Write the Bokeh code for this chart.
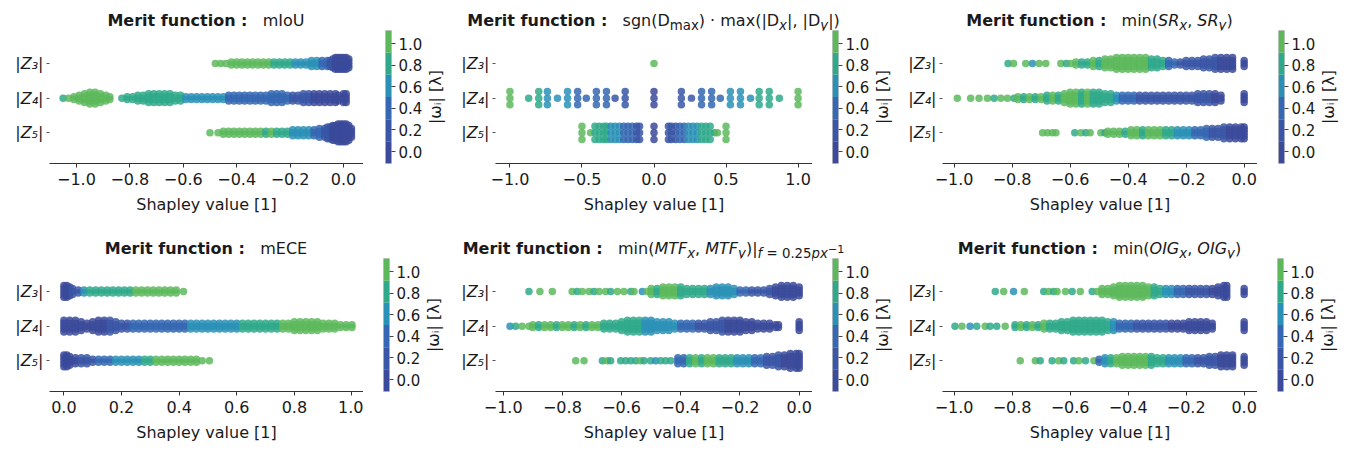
import numpy as np
from bokeh.plotting import figure
from bokeh.models import (Range1d, FixedTicker, CustomJSTickFormatter, ColumnDataSource,
                          LinearColorMapper, Div, Label)
from bokeh.layouts import row, column
from bokeh.transform import transform
from bokeh.embed import file_html
from bokeh.resources import INLINE

# ---------------- data ----------------
PALETTE = ["#3b4a9a", "#3a56a6", "#3567b3", "#2a90b6", "#2fa98a", "#5db85c"]
OMEGA_LOW, OMEGA_HIGH = -0.111, 1.123
CB_TICKS = [0.0, 0.2, 0.4, 0.6, 0.8, 1.0]
ROW_LABELS = ["|Z₅|", "|Z₄|", "|Z₃|"]          # rows y = 0, 1, 2
XTICKS_NEG = [-1.0, -0.8, -0.6, -0.4, -0.2, 0.0]
XTICKS_SYM = [-1.0, -0.5, 0.0, 0.5, 1.0]
XTICKS_POS = [0.0, 0.2, 0.4, 0.6, 0.8, 1.0]
X_LABEL = "Shapley value [1]"
CB_LABEL = "|ωᵢ| [λ]"

# samples: (shapley value, |omega|, number of stacked points)
MIOU_Z3 = [(-0.48,1.0,1),(-0.46,1.0,1),(-0.44,1.0,1),(-0.42,1.0,2),(-0.40,1.0,2),(-0.38,1.0,2),(-0.36,1.0,2),
           (-0.34,1.0,2),(-0.32,1.0,2),(-0.30,1.0,2),(-0.28,0.95,2),(-0.26,0.8,2),(-0.24,0.8,2),(-0.22,0.8,2),
           (-0.20,0.75,2),(-0.18,0.65,2),(-0.16,0.65,2),(-0.14,0.6,2),(-0.12,0.6,3),(-0.10,0.55,3),(-0.08,0.45,3),
           (-0.06,0.4,3),(-0.05,0.25,3),(-0.04,0.1,4),(-0.03,0.05,5),(-0.02,0.0,5),(-0.01,0.0,5),(0.00,0.0,5),
           (0.01,0.0,5),(0.02,0.0,4)]
MIOU_Z4 = [(-1.05,0.9,1),(-1.03,1.0,1),(-1.01,1.0,2),(-0.99,1.0,3),(-0.97,1.0,4),(-0.95,1.0,5),(-0.93,1.0,5),
           (-0.91,1.0,4),(-0.89,1.0,3),(-0.875,1.0,2),(-0.83,0.85,1),(-0.81,0.8,2),(-0.79,0.8,2),(-0.77,0.8,3),
           (-0.75,0.8,3),(-0.73,0.8,4),(-0.71,0.8,4),(-0.69,0.8,4),(-0.67,0.8,4),(-0.65,0.8,4),(-0.63,0.8,3),
           (-0.61,0.75,3),(-0.59,0.6,2),(-0.57,0.6,2),(-0.55,0.6,2),(-0.53,0.6,2),(-0.51,0.6,2),(-0.49,0.55,2),
           (-0.47,0.55,2),(-0.45,0.55,2),(-0.43,0.5,3),(-0.41,0.45,3),(-0.39,0.45,3),(-0.37,0.4,3),(-0.35,0.4,3),
           (-0.33,0.4,3),(-0.31,0.35,3),(-0.29,0.35,3),(-0.27,0.35,4),(-0.25,0.35,4),(-0.23,0.35,4),(-0.21,0.35,3),
           (-0.19,0.3,3),(-0.17,0.15,3),(-0.15,0.1,4),(-0.13,0.1,4),(-0.11,0.05,4),(-0.09,0.05,4),(-0.07,0.05,4),
           (-0.05,0.0,4),(-0.03,0.0,4),(-0.02,0.0,3),(0.00,0.0,4),(0.01,0.0,4)]
MIOU_Z5 = [(-0.50,1.0,1),(-0.47,1.0,1),(-0.45,1.0,2),(-0.43,1.0,2),(-0.41,1.0,2),(-0.39,1.0,2),(-0.37,1.0,2),
           (-0.35,1.0,2),(-0.33,1.0,2),(-0.31,0.95,2),(-0.29,0.9,2),(-0.27,0.95,2),(-0.25,0.8,2),(-0.23,0.8,2),
           (-0.21,0.75,2),(-0.19,0.65,3),(-0.17,0.65,3),(-0.15,0.6,3),(-0.13,0.55,3),(-0.11,0.45,3),(-0.09,0.4,4),
           (-0.07,0.3,4),(-0.06,0.15,5),(-0.05,0.1,5),(-0.04,0.05,6),(-0.03,0.0,6),(-0.02,0.0,7),(-0.01,0.0,7),
           (0.00,0.0,7),(0.01,0.0,7),(0.02,0.0,6),(0.03,0.0,4)]

DMAX_Z3 = [(0.0,1.0,1)]
DMAX_Z4 = [(-1.0,1.0,3),(-0.87,0.85,1),(-0.80,0.8,3),(-0.74,0.7,3),(-0.67,0.65,1),(-0.60,0.6,3),(-0.53,0.5,3),
           (-0.47,0.45,1),(-0.40,0.4,3),(-0.33,0.35,3),(-0.27,0.25,1),(-0.20,0.2,3),(0.0,0.0,3),(0.19,0.2,3),
           (0.26,0.25,1),(0.33,0.35,3),(0.40,0.4,3),(0.46,0.45,1),(0.53,0.55,3),(0.60,0.6,3),(0.67,0.65,1),
           (0.73,0.75,3),(0.80,0.8,3),(0.87,0.9,1),(1.0,1.0,3)]
DMAX_Z5 = [(-0.50,1.0,3),(-0.44,0.95,1),(-0.41,0.9,3),(-0.38,0.85,3),(-0.35,0.8,3),(-0.33,0.75,3),(-0.30,0.7,3),
           (-0.27,0.6,3),(-0.24,0.55,3),(-0.21,0.45,3),(-0.18,0.4,3),(-0.15,0.35,3),(-0.12,0.25,3),(-0.10,0.2,3),
           (0.0,0.0,3),(0.10,0.2,3),(0.12,0.25,3),(0.15,0.3,3),(0.18,0.4,3),(0.21,0.45,3),(0.24,0.55,3),
           (0.27,0.6,3),(0.30,0.7,3),(0.33,0.75,3),(0.36,0.8,3),(0.39,0.85,3),(0.42,0.9,1),(0.44,0.95,1),
           (0.50,1.0,3)]

SR_Z3 = [(-0.814,0.9,1),(-0.795,1.0,1),(-0.753,1.0,1),(-0.730,0.7,1),(-0.707,1.0,1),(-0.684,1.0,1),
         (-0.632,1.0,1),(-0.613,0.8,1),(-0.598,1.0,1),(-0.58,1.0,2),(-0.56,0.8,2),(-0.54,0.85,2),(-0.52,0.95,3),
         (-0.50,0.8,3),(-0.48,0.95,4),(-0.46,1.0,4),(-0.44,1.0,5),(-0.42,1.0,5),(-0.40,1.0,5),(-0.38,1.0,5),
         (-0.36,1.0,5),(-0.34,0.95,5),(-0.32,0.85,4),(-0.30,0.8,4),(-0.28,0.75,3),(-0.26,0.4,3),(-0.24,0.35,2),
         (-0.22,0.3,2),(-0.20,0.3,3),(-0.18,0.3,3),(-0.16,0.3,3),(-0.14,0.2,4),(-0.12,0.2,4),(-0.10,0.1,5),
         (-0.08,0.05,5),(-0.06,0.0,5),(-0.04,0.0,5),(0.0,0.0,3)]
SR_Z4 = [(-0.989,1.0,1),(-0.943,1.0,1),(-0.914,0.95,1),(-0.885,1.0,1),(-0.862,0.8,1),(-0.839,1.0,1),
         (-0.816,1.0,1),(-0.793,0.85,1),(-0.78,1.0,2),(-0.76,0.8,2),(-0.74,1.0,2),(-0.72,0.85,2),(-0.70,1.0,2),
         (-0.68,0.8,3),(-0.66,1.0,3),(-0.64,0.9,3),(-0.62,1.0,4),(-0.60,0.95,5),(-0.58,1.0,5),(-0.56,0.85,5),
         (-0.54,1.0,5),(-0.52,0.9,5),(-0.50,0.85,5),(-0.48,0.8,4),(-0.46,0.75,4),(-0.44,0.6,3),(-0.42,0.5,3),
         (-0.40,0.4,3),(-0.38,0.35,3),(-0.36,0.3,3),(-0.34,0.3,3),(-0.32,0.25,3),(-0.30,0.25,3),(-0.28,0.25,3),
         (-0.26,0.2,3),(-0.24,0.2,3),(-0.22,0.2,3),(-0.20,0.2,3),(-0.18,0.15,3),(-0.16,0.15,4),(-0.14,0.1,4),
         (-0.12,0.1,4),(-0.10,0.05,4),(-0.08,0.0,3),(0.0,0.0,4)]
SR_Z5 = [(-0.695,1.0,1),(-0.678,0.95,1),(-0.661,1.0,1),(-0.649,1.0,1),(-0.584,0.9,1),(-0.563,1.0,1),
         (-0.546,0.85,1),(-0.531,1.0,1),(-0.494,1.0,1),(-0.480,0.85,1),(-0.47,1.0,2),(-0.45,0.95,2),
         (-0.43,1.0,2),(-0.41,0.85,2),(-0.39,0.95,3),(-0.37,1.0,3),(-0.35,0.9,3),(-0.33,1.0,3),(-0.31,0.95,3),
         (-0.29,1.0,3),(-0.27,0.8,3),(-0.25,0.75,3),(-0.23,0.7,3),(-0.21,0.6,3),(-0.19,0.55,3),(-0.17,0.45,3),
         (-0.15,0.4,3),(-0.13,0.35,4),(-0.11,0.3,4),(-0.09,0.2,4),(-0.07,0.1,5),(-0.05,0.05,5),(-0.03,0.0,5),
         (-0.01,0.0,5),(0.0,0.0,5)]

ECE_Z3 = [(0.00,0.0,5),(0.01,0.0,5),(0.02,0.05,4),(0.03,0.1,3),(0.05,0.3,2),(0.07,0.7,2),(0.09,0.8,2),
          (0.11,0.8,2),(0.13,0.8,2),(0.15,0.8,2),(0.17,0.8,2),(0.19,0.85,2),(0.21,0.85,2),(0.23,0.9,2),
          (0.25,1.0,2),(0.27,1.0,2),(0.29,1.0,2),(0.31,1.0,2),(0.33,1.0,2),(0.35,1.0,2),(0.37,1.0,2),
          (0.39,1.0,2),(0.415,1.0,1)]
ECE_Z4 = [(0.00,0.0,5),(0.02,0.0,5),(0.04,0.0,5),(0.06,0.05,4),(0.08,0.05,3),(0.10,0.05,4),(0.12,0.05,5),
          (0.14,0.05,5),(0.16,0.1,5),(0.18,0.15,4),(0.20,0.2,3),(0.22,0.25,3),(0.24,0.35,3),(0.26,0.35,3),
          (0.28,0.35,3),(0.30,0.4,3),(0.32,0.4,3),(0.34,0.4,3),(0.36,0.45,3),(0.38,0.45,3),(0.40,0.45,3),
          (0.42,0.5,3),(0.44,0.55,3),(0.46,0.55,3),(0.48,0.6,3),(0.50,0.6,3),(0.52,0.6,3),(0.54,0.65,3),
          (0.56,0.65,3),(0.58,0.65,3),(0.60,0.7,3),(0.62,0.75,3),(0.64,0.75,3),(0.66,0.8,3),(0.68,0.8,3),
          (0.70,0.85,3),(0.72,0.85,3),(0.74,0.9,3),(0.76,0.95,3),(0.78,1.0,3),(0.80,1.0,4),(0.82,1.0,4),
          (0.84,1.0,4),(0.86,1.0,4),(0.88,1.0,4),(0.90,1.0,3),(0.92,1.0,3),(0.94,1.0,3),(0.96,1.0,2),
          (0.98,1.0,2),(1.00,1.0,2)]
ECE_Z5 = [(0.00,0.0,5),(0.01,0.0,5),(0.02,0.0,4),(0.04,0.05,3),(0.06,0.1,3),(0.08,0.2,3),(0.10,0.3,2),
          (0.12,0.4,2),(0.14,0.45,2),(0.16,0.5,2),(0.18,0.55,2),(0.20,0.6,2),(0.22,0.6,2),(0.24,0.65,2),
          (0.26,0.7,2),(0.28,0.75,2),(0.30,0.9,2),(0.32,1.0,2),(0.34,1.0,2),(0.36,1.0,2),(0.38,1.0,2),
          (0.40,1.0,2),(0.42,1.0,2),(0.44,1.0,2),(0.46,1.0,2),(0.48,1.0,1),(0.505,1.0,1)]

MTF_Z3 = [(-0.913,0.85,1),(-0.876,1.0,1),(-0.834,1.0,1),(-0.767,1.0,1),(-0.750,0.85,1),(-0.733,1.0,1),
          (-0.710,1.0,1),(-0.693,0.85,1),(-0.676,1.0,1),(-0.654,1.0,1),(-0.637,0.8,1),(-0.614,1.0,1),
          (-0.592,1.0,1),(-0.569,0.85,1),(-0.558,1.0,1),(-0.530,0.65,1),(-0.513,1.0,1),(-0.50,1.0,3),
          (-0.48,0.9,3),(-0.46,1.0,4),(-0.44,0.95,4),(-0.42,1.0,4),(-0.40,0.9,4),(-0.38,0.9,3),(-0.36,0.85,3),
          (-0.34,0.8,3),(-0.32,0.75,3),(-0.30,0.7,3),(-0.28,0.6,4),(-0.26,0.6,4),(-0.24,0.55,4),(-0.22,0.55,3),
          (-0.20,0.5,2),(-0.18,0.35,2),(-0.16,0.3,2),(-0.14,0.2,2),(-0.12,0.15,2),(-0.10,0.1,3),(-0.08,0.05,4),
          (-0.06,0.0,5),(-0.04,0.0,5),(-0.02,0.0,5),(0.0,0.0,4)]
MTF_Z4 = [(-0.977,0.7,1),(-0.958,0.9,1),(-0.936,1.0,1),(-0.913,1.0,1),(-0.90,1.0,2),(-0.88,0.85,2),
          (-0.86,1.0,2),(-0.84,1.0,2),(-0.82,0.85,2),(-0.80,1.0,2),(-0.78,1.0,2),(-0.76,0.9,2),(-0.74,1.0,2),
          (-0.72,0.85,2),(-0.70,1.0,2),(-0.68,0.95,2),(-0.66,0.85,3),(-0.64,0.85,3),(-0.62,0.8,3),(-0.60,0.8,4),
          (-0.58,0.8,5),(-0.56,0.75,5),(-0.54,0.75,5),(-0.52,0.7,5),(-0.50,0.7,5),(-0.48,0.65,4),(-0.46,0.6,4),
          (-0.44,0.6,4),(-0.42,0.55,3),(-0.40,0.5,3),(-0.38,0.4,3),(-0.36,0.35,3),(-0.34,0.3,3),(-0.32,0.2,3),
          (-0.30,0.15,4),(-0.28,0.1,4),(-0.26,0.1,5),(-0.24,0.05,5),(-0.22,0.05,5),(-0.20,0.05,5),
          (-0.18,0.05,4),(-0.16,0.05,4),(-0.14,0.05,3),(-0.12,0.05,3),(-0.10,0.05,3),(-0.08,0.05,2),
          (-0.07,0.05,2),(0.0,0.0,4)]
MTF_Z5 = [(-0.755,1.0,1),(-0.727,1.0,1),(-0.665,0.9,1),(-0.648,1.0,1),(-0.637,0.85,1),(-0.603,0.85,1),
          (-0.586,0.8,1),(-0.569,0.85,1),(-0.552,0.85,1),(-0.536,1.0,1),(-0.524,0.85,1),(-0.502,0.8,1),
          (-0.485,0.65,1),(-0.468,0.9,1),(-0.451,0.8,1),(-0.434,0.75,1),(-0.41,0.45,3),(-0.39,0.4,3),
          (-0.37,0.85,3),(-0.35,0.95,3),(-0.33,0.9,3),(-0.31,1.0,3),(-0.29,0.95,3),(-0.27,0.85,3),(-0.25,0.8,3),
          (-0.23,0.75,3),(-0.21,0.7,3),(-0.19,0.65,3),(-0.17,0.6,3),(-0.15,0.5,3),(-0.13,0.35,3),(-0.11,0.3,4),
          (-0.09,0.2,4),(-0.07,0.1,5),(-0.05,0.05,5),(-0.03,0.0,6),(-0.01,0.0,6),(0.0,0.0,6)]

OIG_Z3 = [(-0.858,0.85,1),(-0.829,1.0,1),(-0.795,0.7,1),(-0.758,1.0,1),(-0.691,0.85,1),(-0.674,1.0,1),
          (-0.657,0.85,1),(-0.645,1.0,1),(-0.616,1.0,1),(-0.593,0.85,1),(-0.565,1.0,1),(-0.524,0.8,1),
          (-0.507,1.0,1),(-0.49,1.0,3),(-0.47,0.95,3),(-0.45,1.0,4),(-0.43,1.0,5),(-0.41,0.95,5),(-0.39,1.0,5),
          (-0.37,0.95,5),(-0.35,1.0,5),(-0.33,0.95,4),(-0.31,0.85,4),(-0.29,0.8,3),(-0.27,0.7,3),(-0.25,0.6,3),
          (-0.23,0.45,3),(-0.21,0.35,3),(-0.19,0.3,3),(-0.17,0.2,3),(-0.15,0.15,3),(-0.13,0.1,3),(-0.11,0.05,3),
          (-0.09,0.0,4),(-0.07,0.0,5),(-0.06,0.0,5),(0.0,0.0,3)]
OIG_Z4 = [(-0.997,0.9,1),(-0.973,1.0,1),(-0.945,0.7,1),(-0.922,0.85,1),(-0.893,1.0,1),(-0.876,0.85,1),
          (-0.853,0.85,1),(-0.824,1.0,1),(-0.79,0.85,2),(-0.77,1.0,2),(-0.75,0.85,2),(-0.73,1.0,2),
          (-0.71,0.85,2),(-0.69,1.0,3),(-0.67,0.8,3),(-0.65,0.85,3),(-0.63,0.8,4),(-0.61,0.8,4),(-0.59,0.75,5),
          (-0.57,0.8,5),(-0.55,0.85,5),(-0.53,0.8,5),(-0.51,0.85,5),(-0.49,0.8,5),(-0.47,0.75,4),(-0.45,0.6,4),
          (-0.43,0.45,3),(-0.41,0.4,3),(-0.39,0.35,3),(-0.37,0.3,3),(-0.35,0.25,3),(-0.33,0.2,3),(-0.31,0.15,3),
          (-0.29,0.1,3),(-0.27,0.1,3),(-0.25,0.05,3),(-0.23,0.05,3),(-0.21,0.05,3),(-0.19,0.05,4),
          (-0.17,0.05,4),(-0.15,0.05,4),(-0.13,0.05,4),(-0.11,0.05,3),(0.0,0.0,4)]
OIG_Z5 = [(-0.772,1.0,1),(-0.720,1.0,1),(-0.703,0.9,1),(-0.662,0.85,1),(-0.639,1.0,1),(-0.622,0.85,1),
          (-0.588,0.85,1),(-0.570,1.0,1),(-0.547,0.85,1),(-0.518,1.0,1),(-0.50,0.4,2),(-0.48,0.6,3),
          (-0.46,0.9,3),(-0.44,1.0,3),(-0.42,0.95,4),(-0.40,1.0,4),(-0.38,0.95,4),(-0.36,1.0,4),(-0.34,0.95,4),
          (-0.32,0.9,4),(-0.30,0.85,3),(-0.28,0.75,3),(-0.26,0.7,3),(-0.24,0.6,3),(-0.22,0.55,3),(-0.20,0.5,3),
          (-0.18,0.35,3),(-0.16,0.3,3),(-0.14,0.2,3),(-0.12,0.15,4),(-0.10,0.1,4),(-0.08,0.05,5),(-0.06,0.0,5),
          (-0.04,0.0,5),(0.0,0.0,4)]

TITLES = [
    "mIoU",
    "sgn(D<sub>max</sub>) · max(|D<sub><i>x</i></sub>|, |D<sub><i>y</i></sub>|)",
    "min(<i>SR<sub>x</sub></i>, <i>SR<sub>y</sub></i>)",
    "mECE",
    "min(<i>MTF<sub>x</sub></i>, <i>MTF<sub>y</sub></i>)|<sub><i>f</i> = 0.25<i>px</i><sup>−1</sup></sub>",
    "min(<i>OIG<sub>x</sub></i>, <i>OIG<sub>y</sub></i>)",
]

# ---------------- layout / style ----------------
FONT = "DejaVu Sans"
TXT = "#1a1a1a"
mapper = LinearColorMapper(palette=PALETTE, low=OMEGA_LOW, high=OMEGA_HIGH)

PANELS = [
    dict(title=TITLES[0], rows=[MIOU_Z5, MIOU_Z4, MIOU_Z3], xr=(-1.101, 0.075), ticks=XTICKS_NEG, frame=(49, 363), cb=385, dy=0.085),
    dict(title=TITLES[1], rows=[DMAX_Z5, DMAX_Z4, DMAX_Z3], xr=(-1.10, 1.10), ticks=XTICKS_SYM, frame=(45, 362), cb=382, dy=0.19),
    dict(title=TITLES[2], rows=[SR_Z5, SR_Z4, SR_Z3], xr=(-1.04, 0.046), ticks=XTICKS_NEG, frame=(42, 357), cb=378, dy=0.085),
    dict(title=TITLES[3], rows=[ECE_Z5, ECE_Z4, ECE_Z3], xr=(-0.05, 1.04), ticks=XTICKS_POS, frame=(49, 363), cb=383, dy=0.085),
    dict(title=TITLES[4], rows=[MTF_Z5, MTF_Z4, MTF_Z3], xr=(-1.026, 0.045), ticks=XTICKS_NEG, frame=(45, 362), cb=382, dy=0.085),
    dict(title=TITLES[5], rows=[OIG_Z5, OIG_Z4, OIG_Z3], xr=(-1.04, 0.046), ticks=XTICKS_NEG, frame=(42, 357), cb=377, dy=0.085),
]
CB_W = 7          # colour bar width, px
CB_AXIS_W = 33    # room for colour-bar ticks + labels, px
CB_LABEL_X = 10   # label centre inside the label strip, px

minus_fmt = CustomJSTickFormatter(code="return tick.toFixed(1).replace('-', '\u2212');")


def swarm(rows, dy):
    xs, ys, ws = [], [], []
    for ry, samples in enumerate(rows):
        for x, w, n in samples:
            for k in range(n):
                xs.append(x)
                ys.append(ry + (k - (n - 1) / 2.0) * dy)
                ws.append(w)
    return dict(x=xs, y=ys, w=ws)


def bare_fig(**kw):
    f = figure(output_backend="svg", toolbar_location=None, title=None, **kw)
    f.xgrid.visible = False
    f.ygrid.visible = False
    return f


def make_panel(cfg, top_row, last_col):
    panel_w = 449 if last_col else 450
    title_h = 30 if top_row else 33
    fig_h = 225 - title_h
    frame_h = 133
    bb = fig_h - frame_h
    fl, fr = cfg["frame"]

    div_w = int(fl + fr)
    pad = 12 if top_row else 15
    div = Div(text=(f'<div style="width:{div_w}px;font-family:\'{FONT}\';font-size:16px;color:{TXT};'
                    f'text-align:center;white-space:nowrap;padding-top:{pad}px;line-height:18px">'
                    f'<b>Merit function :</b>&nbsp;&nbsp;&nbsp;{cfg["title"]}</div>'),
              width=div_w, height=title_h, margin=(0, 0, 0, 0))

    p = bare_fig(width=fr, height=fig_h, x_range=Range1d(*cfg["xr"]), y_range=Range1d(-0.885, 2.95),
                 min_border_left=fl, min_border_right=0, min_border_top=0, min_border_bottom=bb)
    p.outline_line_color = None

    src = ColumnDataSource(swarm(cfg["rows"], cfg["dy"]))
    p.scatter("x", "y", source=src, size=7.5, fill_color=transform("w", mapper),
              line_color=None, fill_alpha=0.85)

    xa = p.xaxis[0]
    xa.ticker = FixedTicker(ticks=cfg["ticks"])
    xa.formatter = minus_fmt
    xa.axis_label = X_LABEL
    xa.axis_label_text_font = FONT
    xa.axis_label_text_font_size = "16px"
    xa.axis_label_text_font_style = "normal"
    xa.axis_label_text_color = TXT
    xa.axis_label_standoff = 7
    xa.major_label_text_font = FONT
    xa.major_label_text_font_size = "16px"
    xa.major_label_text_color = TXT
    xa.axis_line_color = "#333333"
    xa.axis_line_width = 1.2
    xa.major_tick_line_color = "#333333"
    xa.major_tick_out = 4
    xa.major_tick_in = 0
    xa.minor_tick_line_color = None

    ya = p.yaxis[0]
    ya.ticker = FixedTicker(ticks=[0, 1, 2])
    ya.major_label_overrides = {i: lab for i, lab in enumerate(ROW_LABELS)}
    ya.major_label_text_font = FONT
    ya.major_label_text_font_size = "16px"
    ya.major_label_text_font_style = "italic"
    ya.major_label_text_color = TXT
    ya.major_label_standoff = 3
    ya.axis_line_color = None
    ya.major_tick_line_color = "#555555"
    ya.major_tick_out = 3
    ya.major_tick_in = 0
    ya.minor_tick_line_color = None

    # colour bar
    cb_right = cfg["cb"] + CB_W + CB_AXIS_W
    cb = bare_fig(width=cb_right - fr, height=fig_h, x_range=Range1d(0, 1),
                  y_range=Range1d(OMEGA_LOW, OMEGA_HIGH), y_axis_location="right", x_axis_location=None,
                  min_border_left=cfg["cb"] - fr, min_border_right=CB_AXIS_W,
                  min_border_top=0, min_border_bottom=bb)
    edges = np.linspace(OMEGA_LOW, OMEGA_HIGH, len(PALETTE) + 1)
    cb_src = ColumnDataSource(dict(bottom=edges[:-1], top=edges[1:], mid=(edges[:-1] + edges[1:]) / 2))
    cb.quad(left=0, right=1, bottom="bottom", top="top", source=cb_src,
            fill_color=transform("mid", mapper), line_color=None)
    cb.outline_line_color = "#c8c8c8"
    cya = cb.yaxis[0]
    cya.ticker = FixedTicker(ticks=CB_TICKS)
    cya.formatter = minus_fmt
    cya.major_label_text_font = FONT
    cya.major_label_text_font_size = "15px"
    cya.major_label_text_color = TXT
    cya.major_label_standoff = 3
    cya.axis_line_color = None
    cya.major_tick_line_color = "#444444"
    cya.major_tick_out = 4
    cya.major_tick_in = 0
    cya.minor_tick_line_color = None

    # colour-bar label strip
    lab_w = panel_w - cb_right
    lab = bare_fig(width=lab_w, height=fig_h, x_range=Range1d(0, lab_w),
                   y_range=Range1d(OMEGA_LOW, OMEGA_HIGH), x_axis_location=None, y_axis_location=None,
                   min_border_left=0, min_border_right=0, min_border_top=0, min_border_bottom=bb)
    lab.outline_line_color = None
    lab.add_layout(Label(x=CB_LABEL_X, y=(OMEGA_LOW + OMEGA_HIGH) / 2, text=CB_LABEL, angle=np.pi / 2,
                         text_align="center", text_baseline="middle",
                         text_font=FONT, text_font_size="16px", text_color=TXT))

    return column(div, row(p, cb, lab, spacing=0), spacing=0)


panels = [make_panel(cfg, i < 3, i % 3 == 2) for i, cfg in enumerate(PANELS)]
layout = column(row(*panels[:3], spacing=0), row(*panels[3:], spacing=0), spacing=0)

open("out.html", "w").write(file_html(layout, INLINE))
